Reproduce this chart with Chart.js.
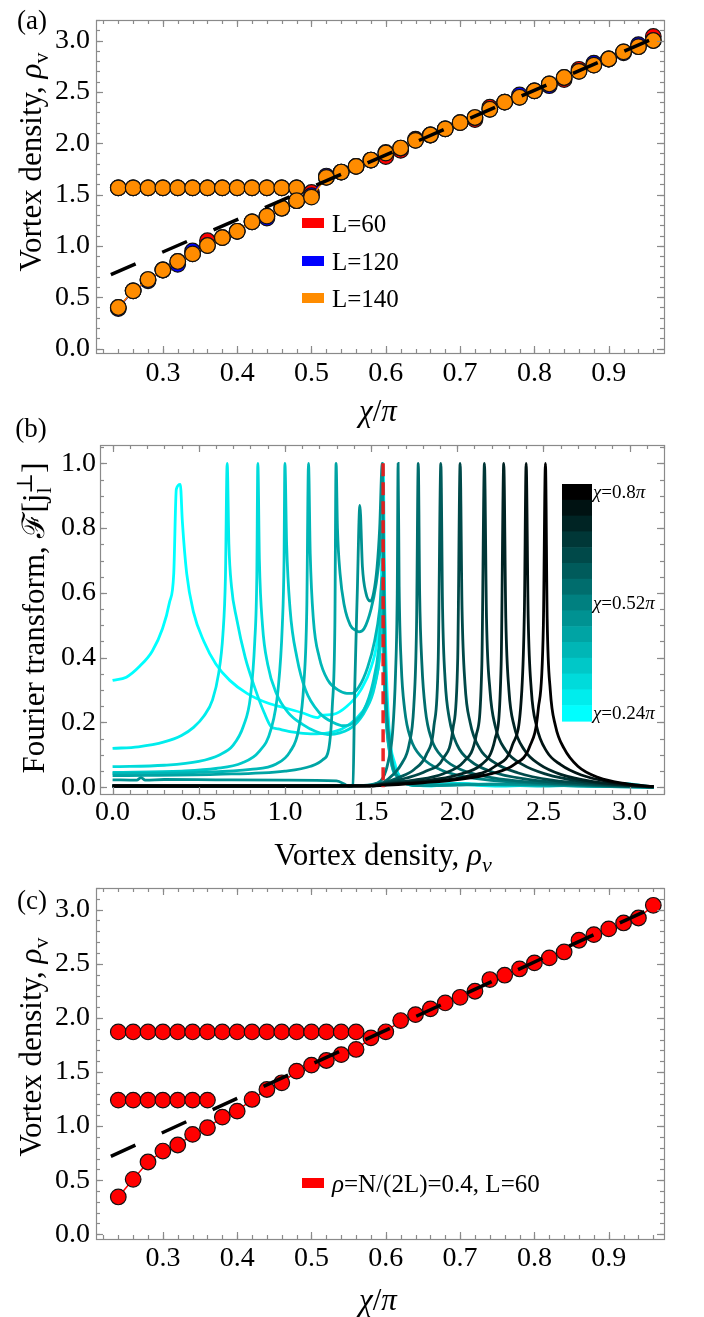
<!DOCTYPE html>
<html>
<head>
<meta charset="utf-8">
<script src="https://cdn.jsdelivr.net/npm/chart.js@4.4.1/dist/chart.umd.min.js"></script>
<style>
body { margin: 0; background: #fff; }
#page { position: relative; width: 704px; height: 1317px; background: #fff; overflow: hidden; }
canvas { position: absolute; left: 0; }
</style>
</head>
<body>
<div id="page">
    <canvas id="chartA" width="704" height="440" style="top:0px"></canvas>
    <canvas id="chartB" width="704" height="460" style="top:415px"></canvas>
    <canvas id="chartC" width="704" height="457" style="top:860px"></canvas>
</div>
<script>
// ---- (a) vortex density against chi/pi, three sizes
var chiA = [0.24, 0.26, 0.28, 0.30, 0.32, 0.34, 0.36, 0.38, 0.40, 0.42, 0.44, 0.46, 0.48, 0.50, 0.52, 0.54, 0.56, 0.58, 0.60,
    0.62, 0.64, 0.66, 0.68, 0.70, 0.72, 0.74, 0.76, 0.78, 0.80, 0.82, 0.84, 0.86, 0.88, 0.90, 0.92, 0.94, 0.96];
var rhoL140 = [0.40, 0.562, 0.672, 0.765, 0.848, 0.922, 1.003, 1.08, 1.142, 1.234, 1.29, 1.367, 1.44, 1.475, 1.667, 1.719, 1.774, 1.836, 1.904,
    1.953, 2.028, 2.08, 2.14, 2.20, 2.25, 2.33, 2.40, 2.447, 2.51, 2.577, 2.64, 2.70, 2.76, 2.82, 2.89, 2.94, 3.00];
var rhoL120 = [0.39, 0.562, 0.66, 0.765, 0.82, 0.95, 1.003, 1.08, 1.142, 1.234, 1.27, 1.367, 1.44, 1.49, 1.68, 1.719, 1.774, 1.836, 1.91,
    1.953, 2.028, 2.08, 2.14, 2.20, 2.25, 2.33, 2.40, 2.47, 2.51, 2.56, 2.64, 2.70, 2.78, 2.82, 2.88, 2.96, 3.00];
var rhoL60 = [0.40, 0.562, 0.672, 0.765, 0.848, 0.922, 1.05, 1.08, 1.142, 1.234, 1.29, 1.367, 1.44, 1.52, 1.667, 1.719, 1.774, 1.836, 1.87,
    1.93, 2.04, 2.08, 2.14, 2.20, 2.23, 2.35, 2.40, 2.447, 2.51, 2.577, 2.62, 2.72, 2.76, 2.82, 2.89, 2.94, 3.04];
var chiFlatA = [0.24, 0.26, 0.28, 0.30, 0.32, 0.34, 0.36, 0.38, 0.40, 0.42, 0.44, 0.46, 0.48];
var rhoFlatA = [1.565, 1.565, 1.565, 1.565, 1.565, 1.565, 1.565, 1.565, 1.565, 1.565, 1.565, 1.565, 1.565];
var guideChi = [0.23, 0.96];
var guideRho = [0.72, 3.02];
var xTicksA = [0.3, 0.4, 0.5, 0.6, 0.7, 0.8, 0.9];
var yTicksA = [0.0, 0.5, 1.0, 1.5, 2.0, 2.5, 3.0];

// ---- (c) rho = 0.4, L = 60
var rhoC = [0.345, 0.508, 0.668, 0.769, 0.825, 0.923, 0.985, 1.083, 1.138, 1.246, 1.338, 1.40, 1.508, 1.563, 1.606, 1.66, 1.708, 1.815, 1.871,
    1.975, 2.03, 2.083, 2.138, 2.19, 2.246, 2.354, 2.394, 2.452, 2.508, 2.554, 2.609, 2.717, 2.769, 2.822, 2.877, 2.923, 3.04];
var chiHighC = [0.24, 0.26, 0.28, 0.30, 0.32, 0.34, 0.36, 0.38, 0.40, 0.42, 0.44, 0.46, 0.48, 0.50, 0.52, 0.54, 0.56];
var rhoHighC = [1.87, 1.87, 1.87, 1.87, 1.87, 1.87, 1.87, 1.87, 1.87, 1.87, 1.87, 1.87, 1.87, 1.87, 1.87, 1.87, 1.87];
var chiLowC = [0.24, 0.26, 0.28, 0.30, 0.32, 0.34, 0.36];
var rhoLowC = [1.24, 1.24, 1.24, 1.24, 1.24, 1.24, 1.24];

// ---- (b) Fourier transform curves, chi = 0.24pi ... 0.8pi
var chiB = [0.24, 0.28, 0.32, 0.36, 0.40, 0.44, 0.48, 0.52, 0.56, 0.60, 0.64, 0.68, 0.72, 0.76, 0.80];
var ft24x = [0, 0.08, 0.16, 0.23, 0.29, 0.33, 0.355, 0.37, 0.393, 0.405, 0.43, 0.47, 0.53, 0.6, 0.68, 0.78, 0.9, 1.0, 1.1, 1.19,
    1.21, 1.28, 1.36, 1.44, 1.5, 1.54, 1.56, 1.57, 1.58, 1.6, 1.64, 1.7, 1.85, 2.0, 2.2, 2.45, 2.7, 2.95, 3.14];
var ft24y = [0.33, 0.34, 0.375, 0.42, 0.49, 0.57, 0.66, 0.92, 0.935, 0.82, 0.66, 0.54, 0.45, 0.38, 0.33, 0.29, 0.26, 0.245, 0.23, 0.215,
    0.222, 0.225, 0.25, 0.3, 0.37, 0.47, 0.62, 1.0, 0.55, 0.22, 0.07, 0.015, 0.004, 0.012, 0.005, 0.013, 0.006, 0.012, 0.0];
var ft28x = [0, 0.15, 0.3, 0.4, 0.47, 0.53, 0.58, 0.615, 0.64, 0.655, 0.665, 0.675, 0.69, 0.72, 0.77, 0.83, 0.88, 0.92, 0.96, 1.05,
    1.15, 1.25, 1.33, 1.41, 1.48, 1.53, 1.555, 1.57, 1.585, 1.61, 1.66, 1.75, 1.95, 2.25, 2.6, 2.9, 3.14];
var ft28y = [0.12, 0.125, 0.14, 0.16, 0.185, 0.22, 0.27, 0.35, 0.47, 0.65, 1.0, 0.75, 0.62, 0.52, 0.4, 0.3, 0.23, 0.187, 0.18, 0.17,
    0.165, 0.168, 0.18, 0.21, 0.26, 0.34, 0.45, 0.75, 0.35, 0.14, 0.04, 0.008, 0.01, 0.004, 0.01, 0.006, 0.0];
var ft32x = [0, 0.3, 0.5, 0.62, 0.7, 0.76, 0.8, 0.825, 0.837, 0.843, 0.852, 0.87, 0.9, 0.95, 1.02, 1.1, 1.18, 1.25, 1.32, 1.4,
    1.47, 1.52, 1.55, 1.565, 1.58, 1.61, 1.66, 1.76, 2.0, 2.3, 2.7, 3.14];
var ft32y = [0.064, 0.068, 0.08, 0.1, 0.13, 0.19, 0.28, 0.45, 0.65, 1.0, 0.7, 0.5, 0.38, 0.29, 0.23, 0.195, 0.172, 0.163, 0.168, 0.19,
    0.24, 0.31, 0.42, 0.6, 0.3, 0.12, 0.035, 0.006, 0.012, 0.005, 0.01, 0.0];
var ft36x = [0, 0.4, 0.6, 0.75, 0.85, 0.92, 0.96, 0.985, 0.995, 1.0, 1.01, 1.03, 1.07, 1.12, 1.2, 1.28, 1.34, 1.4, 1.46, 1.51,
    1.545, 1.565, 1.58, 1.61, 1.66, 1.78, 2.1, 2.5, 2.85, 3.14];
var ft36y = [0.046, 0.05, 0.058, 0.075, 0.11, 0.18, 0.3, 0.5, 0.7, 1.0, 0.75, 0.55, 0.4, 0.3, 0.23, 0.2, 0.19, 0.2, 0.24, 0.32,
    0.43, 0.58, 0.28, 0.1, 0.03, 0.005, 0.01, 0.004, 0.01, 0.0];
var ft40x = [0, 0.5, 0.8, 0.95, 1.03, 1.08, 1.11, 1.127, 1.137, 1.147, 1.165, 1.2, 1.25, 1.31, 1.36, 1.39, 1.43, 1.48, 1.52, 1.55,
    1.565, 1.58, 1.61, 1.66, 1.8, 2.2, 2.6, 3.14];
var ft40y = [0.042, 0.046, 0.055, 0.072, 0.11, 0.18, 0.32, 0.55, 1.0, 0.72, 0.52, 0.4, 0.33, 0.3, 0.29, 0.29, 0.31, 0.37, 0.45, 0.55,
    0.65, 0.3, 0.1, 0.03, 0.006, 0.01, 0.005, 0.0];
var ft44x = [0, 0.6, 1.0, 1.15, 1.22, 1.255, 1.275, 1.29, 1.297, 1.305, 1.32, 1.345, 1.38, 1.41, 1.43, 1.46, 1.5, 1.53, 1.55, 1.565,
    1.58, 1.61, 1.66, 1.8, 2.2, 2.7, 3.14];
var ft44y = [0.036, 0.04, 0.05, 0.065, 0.085, 0.12, 0.25, 0.5, 1.0, 0.8, 0.66, 0.56, 0.5, 0.485, 0.48, 0.49, 0.55, 0.63, 0.72, 0.82,
    0.35, 0.12, 0.03, 0.005, 0.01, 0.004, 0.0];
var ft48x = [0, 0.14, 0.165, 0.19, 0.3, 0.6, 1.0, 1.3, 1.345, 1.37, 1.395, 1.405, 1.42, 1.435, 1.45, 1.47, 1.495, 1.515, 1.535, 1.55,
    1.565, 1.58, 1.61, 1.66, 1.8, 2.3, 2.8, 3.14];
var ft48y = [0.023, 0.022, 0.03, 0.022, 0.024, 0.023, 0.022, 0.02, 0.01, 0.002, 0.005, 0.3, 0.6, 0.87, 0.68, 0.6, 0.575, 0.6, 0.68, 0.8,
    1.0, 0.4, 0.13, 0.03, 0.005, 0.01, 0.004, 0.0];
var ft52x = [0, 1.0, 1.45, 1.53, 1.57, 1.6, 1.625, 1.642, 1.652, 1.657, 1.663, 1.675, 1.695, 1.73, 1.8, 1.9, 2.05, 2.3, 2.6, 2.9, 3.14];
var ft52y = [0.004, 0.004, 0.006, 0.012, 0.03, 0.08, 0.17, 0.35, 0.6, 1.0, 0.62, 0.38, 0.24, 0.15, 0.09, 0.055, 0.032, 0.017, 0.009, 0.004, 0.001];
var ft56x = [0, 1.0, 1.5, 1.57, 1.63, 1.68, 1.72, 1.748, 1.764, 1.774, 1.782, 1.795, 1.815, 1.85, 1.92, 2.02, 2.2, 2.45, 2.75, 3.14];
var ft56y = [0.004, 0.004, 0.005, 0.015, 0.04, 0.075, 0.13, 0.25, 0.5, 1.0, 0.6, 0.38, 0.24, 0.15, 0.09, 0.055, 0.03, 0.015, 0.007, 0.001];
var ft60x = [0, 1.0, 1.5, 1.57, 1.66, 1.75, 1.82, 1.865, 1.89, 1.905, 1.915, 1.93, 1.955, 2.0, 2.08, 2.2, 2.4, 2.65, 2.9, 3.14];
var ft60y = [0.004, 0.004, 0.005, 0.013, 0.03, 0.055, 0.1, 0.19, 0.4, 1.0, 0.55, 0.33, 0.21, 0.13, 0.08, 0.048, 0.025, 0.012, 0.005, 0.001];
var ft64x = [0, 1.0, 1.5, 1.57, 1.7, 1.82, 1.92, 1.975, 2.003, 2.017, 2.028, 2.045, 2.075, 2.13, 2.22, 2.35, 2.55, 2.8, 3.14];
var ft64y = [0.004, 0.004, 0.005, 0.012, 0.028, 0.05, 0.09, 0.18, 0.4, 1.0, 0.55, 0.32, 0.2, 0.12, 0.075, 0.045, 0.022, 0.01, 0.001];
var ft68x = [0, 1.0, 1.5, 1.57, 1.75, 1.92, 2.04, 2.11, 2.143, 2.158, 2.17, 2.19, 2.22, 2.28, 2.38, 2.52, 2.7, 2.92, 3.14];
var ft68y = [0.004, 0.004, 0.005, 0.01, 0.022, 0.042, 0.08, 0.16, 0.38, 1.0, 0.52, 0.3, 0.19, 0.115, 0.07, 0.04, 0.02, 0.008, 0.001];
var ft72x = [0, 1.0, 1.5, 1.57, 1.8, 2.0, 2.14, 2.22, 2.255, 2.27, 2.282, 2.3, 2.33, 2.39, 2.48, 2.6, 2.78, 2.98, 3.14];
var ft72y = [0.004, 0.004, 0.005, 0.009, 0.02, 0.038, 0.07, 0.15, 0.38, 1.0, 0.52, 0.3, 0.19, 0.115, 0.07, 0.04, 0.018, 0.007, 0.001];
var ft76x = [0, 1.0, 1.5, 1.57, 1.85, 2.05, 2.22, 2.32, 2.375, 2.39, 2.40, 2.412, 2.43, 2.46, 2.52, 2.6, 2.72, 2.88, 3.02, 3.14];
var ft76y = [0.004, 0.004, 0.004, 0.008, 0.018, 0.033, 0.065, 0.13, 0.3, 0.55, 1.0, 0.52, 0.3, 0.19, 0.11, 0.07, 0.038, 0.017, 0.007, 0.002];
var ft80x = [0, 1.0, 1.5, 1.57, 1.8, 2.0, 2.2, 2.33, 2.42, 2.47, 2.5, 2.512, 2.522, 2.54, 2.57, 2.62, 2.7, 2.82, 2.98, 3.14];
var ft80y = [0.004, 0.004, 0.004, 0.006, 0.014, 0.024, 0.042, 0.07, 0.125, 0.24, 0.5, 1.0, 0.52, 0.3, 0.19, 0.12, 0.065, 0.03, 0.011, 0.002];
var halfPiX = [1.57, 1.57];
var halfPiY = [1.0, 0.0];
var xTicksB = [0.0, 0.5, 1.0, 1.5, 2.0, 2.5, 3.0];
var yTicksB = [0.0, 0.2, 0.4, 0.6, 0.8, 1.0];

var SERIF = "'Liberation Serif', 'DejaVu Serif', serif";
var RED = '#ff0000', BLUE = '#0000ff', ORANGE = '#ff8c00';

Chart.defaults.font.family = SERIF;

function pts(xs, ys)
{
    return xs.map(function (x, i) { return {x: x, y: ys[i]}; });
}

function shade(chi)
{
    var t = (chi - 0.24) / 0.56,
        g = Math.round(255 * (1 - t));
    return 'rgb(0,' + g + ',' + g + ')';
}

function fontOf(kind, size)
{
    var small = (kind === 'sub' || kind === 'isub' || kind === 'sup' || kind === 'supsub');
    var it = (kind === 'i' || kind === 'isub') ? 'italic ' : '';
    return it + (small ? Math.round(size * 0.7) : size) + 'px ' + SERIF;
}

// parts : [text, kind] ; kind '' | 'i' | 'sub' | 'isub' | 'sup' | 'supsub' (third item = sub text)
function drawRich(ctx, parts, x, y, size, align)
{
    var widths = parts.map(function (p) {
        ctx.font = fontOf(p[1], size);
        var w = ctx.measureText(p[0]).width;
        if(p[1] === 'supsub') {
            w = Math.max(w, ctx.measureText(p[2]).width);
        }
        return w;
    });
    var total = widths.reduce(function (a, b) { return a + b; }, 0);
    var cx = align === 'center' ? x - total / 2 : x;

    ctx.textAlign = 'left';
    ctx.textBaseline = 'alphabetic';
    ctx.fillStyle = '#000';
    parts.forEach(function (p, i) {
        ctx.font = fontOf(p[1], size);
        if(p[1] === 'supsub') {
            ctx.fillText(p[0], cx, y - size * 0.4);
            ctx.fillText(p[2], cx, y + size * 0.22);
        }
        else {
            var dy = 0;
            if(p[1] === 'sub' || p[1] === 'isub') dy = size * 0.22;
            if(p[1] === 'sup') dy = -size * 0.4;
            ctx.fillText(p[0], cx, y + dy);
        }
        cx += widths[i];
    });
}

function drawRotated(ctx, parts, x, y, size)
{
    ctx.save();
    ctx.translate(x, y);
    ctx.rotate(-Math.PI / 2);
    drawRich(ctx, parts, 0, size * 0.33, size, 'center');
    ctx.restore();
}

function minorValues(min, max, step)
{
    var out = [], v = Math.ceil(min / step - 1e-9) * step;
    for(; v <= max + 1e-9; v += step) {
        out.push(v);
    }
    return out;
}

// gray frame with inward ticks on the four sides
var framePlugin = {
    id: 'frame',
    afterDraw: function (chart, args, opts) {
        var ctx = chart.ctx, a = chart.chartArea,
            xs = chart.scales.x, ys = chart.scales.y;

        function seg(x1, y1, x2, y2) {
            ctx.beginPath();
            ctx.moveTo(x1, y1);
            ctx.lineTo(x2, y2);
            ctx.stroke();
        }
        function xMark(v, len) {
            var p = Math.round(xs.getPixelForValue(v)) + 0.5;
            seg(p, a.bottom, p, a.bottom - len);
            seg(p, a.top, p, a.top + len);
        }
        function yMark(v, len) {
            var p = Math.round(ys.getPixelForValue(v)) + 0.5;
            seg(a.left, p, a.left + len, p);
            seg(a.right, p, a.right - len, p);
        }

        ctx.save();
        ctx.strokeStyle = '#8a8a8a';
        ctx.lineWidth = 1.2;
        minorValues(xs.min, xs.max, opts.xMinor).forEach(function (v) { xMark(v, 4); });
        minorValues(ys.min, ys.max, opts.yMinor).forEach(function (v) { yMark(v, 4); });
        xs.ticks.forEach(function (t) { xMark(t.value, 7); });
        ys.ticks.forEach(function (t) { yMark(t.value, 7); });
        ctx.strokeRect(a.left + 0.5, a.top + 0.5, a.right - a.left, a.bottom - a.top);
        ctx.restore();
    }
};

function axis(min, max, ticks, pad, size, horizontal)
{
    return {
        type: 'linear',
        min: min,
        max: max,
        grid: {display: false, drawTicks: false},
        border: {display: false},
        ticks: {
            font: {family: SERIF, size: 28, lineHeight: 1},
            color: '#000',
            padding: pad,
            autoSkip: false,
            maxRotation: 0,
            callback: function (v) { return Number(v).toFixed(1); }
        },
        afterBuildTicks: function (s) {
            s.ticks = ticks.map(function (v) { return {value: v}; });
        },
        afterFit: function (s) {
            if(horizontal) s.height = size;
            else s.width = size;
        }
    };
}

function dotted(label, xs, ys, color)
{
    return {
        label: label,
        data: pts(xs, ys),
        borderColor: color,
        borderWidth: 1.5,
        pointRadius: 7.8,
        pointBackgroundColor: color,
        pointBorderColor: '#111',
        pointBorderWidth: 1.2,
        tension: 0
    };
}

function guide()
{
    return {
        label: 'guide',
        data: pts(guideChi, guideRho),
        borderColor: '#000',
        borderWidth: 3.5,
        borderDash: [27, 29],
        pointRadius: 0
    };
}

function makeChart(id, datasets, scales, pad, minor, extras)
{
    return new Chart(document.getElementById(id), {
        type: 'line',
        data: {datasets: datasets},
        options: {
            responsive: false,
            animation: false,
            layout: {padding: pad},
            plugins: {
                legend: {display: false},
                tooltip: {enabled: false},
                frame: minor
            },
            scales: scales
        },
        plugins: [framePlugin, extras]
    });
}

function legendRow(ctx, color, parts, x, y)
{
    ctx.fillStyle = color;
    ctx.fillRect(x, y - 5, 22, 10);
    drawRich(ctx, parts, x + 30, y + 8.5, 25, 'left');
}

// ---- (a)
makeChart('chartA', [
    guide(),
    dotted('L=140', chiA, rhoL140, ORANGE),
    dotted('', chiFlatA, rhoFlatA, ORANGE),
    dotted('L=120', chiA, rhoL120, BLUE),
    dotted('', chiFlatA, rhoFlatA, BLUE),
    dotted('L=60', chiA, rhoL60, RED),
    dotted('', chiFlatA, rhoFlatA, RED)
], {
    x: axis(0.21, 0.9744, xTicksA, 7, 87, true),
    y: axis(-0.0435, 3.2, yTicksA, 6, 96, false)
}, {top: 3, right: 40, left: 0, bottom: 0}, {xMinor: 0.02, yMinor: 0.1}, {
    id: 'extrasA',
    afterDraw: function (chart) {
        var ctx = chart.ctx;
        ctx.save();
        drawRich(ctx, [['(a)', '']], 32, 29, 27, 'center');
        drawRotated(ctx, [['Vortex density, ', ''], ['ρ', 'i'], ['v', 'sub']], 31, 162, 31);
        drawRich(ctx, [['χ', 'i'], ['/', ''], ['π', 'i']], 378, 421, 31, 'center');
        legendRow(ctx, RED, [['L=60', '']], 302, 223);
        legendRow(ctx, BLUE, [['L=120', '']], 302, 261);
        legendRow(ctx, ORANGE, [['L=140', '']], 302, 298);
        ctx.restore();
    }
});

// ---- (b)
var dsB = [{
    label: 'pi/2',
    data: pts(halfPiX, halfPiY),
    borderColor: 'rgba(235,25,25,0.95)',
    borderWidth: 3.5,
    borderDash: [13, 6],
    pointRadius: 0
}];
var curvesB = [
    [ft80x, ft80y], [ft76x, ft76y], [ft72x, ft72y], [ft68x, ft68y], [ft64x, ft64y], [ft60x, ft60y], [ft56x, ft56y], [ft52x, ft52y],
    [ft48x, ft48y], [ft44x, ft44y], [ft40x, ft40y], [ft36x, ft36y], [ft32x, ft32y], [ft28x, ft28y], [ft24x, ft24y]
];
curvesB.forEach(function (c, i) {
    var chi = chiB[chiB.length - 1 - i];
    dsB.push({
        label: 'chi=' + chi,
        data: pts(c[0], c[1]),
        borderColor: shade(chi),
        borderWidth: 2.8,
        pointRadius: 0,
        cubicInterpolationMode: 'monotone'
    });
});

makeChart('chartB', dsB, {
    x: axis(-0.073, 3.2, xTicksB, 5, 81, true),
    y: axis(-0.0207, 1.0565, yTicksB, 4, 100, false)
}, {top: 30, right: 40, left: 0, bottom: 0}, {xMinor: 0.1, yMinor: 0.05}, {
    id: 'extrasB',
    afterDraw: function (chart) {
        var ctx = chart.ctx,
            top = 69, h = 237 / chiB.length;
        ctx.save();
        drawRich(ctx, [['(b)', '']], 31, 22, 27, 'center');
        drawRotated(ctx, [['Fourier transform, ', ''], ['ℱ', ''], ['[j', ''], ['⊥', 'supsub', 'l'], [']', '']], 34, 203, 31);
        drawRich(ctx, [['Vortex density, ', ''], ['ρ', 'i'], ['v', 'isub']], 383, 450, 31, 'center');
        // colour bar, top band = largest chi
        chiB.slice().reverse().forEach(function (chi, i) {
            ctx.fillStyle = shade(chi);
            ctx.fillRect(562, top + i * h, 30, h + 0.6);
        });
        drawRich(ctx, [['χ', 'i'], ['=0.8', ''], ['π', 'i']], 593, top + h / 2 + 6, 19, 'left');
        drawRich(ctx, [['χ', 'i'], ['=0.52', ''], ['π', 'i']], 593, top + 7.5 * h + 6, 19, 'left');
        drawRich(ctx, [['χ', 'i'], ['=0.24', ''], ['π', 'i']], 593, top + 14.5 * h + 6, 19, 'left');
        ctx.restore();
    }
});

// ---- (c)
makeChart('chartC', [
    guide(),
    dotted('rho=0.4', chiA, rhoC, RED),
    dotted('', chiHighC, rhoHighC, RED),
    dotted('', chiLowC, rhoLowC, RED)
], {
    x: axis(0.21, 0.9744, xTicksA, 5.5, 78, true),
    y: axis(-0.0435, 3.2, yTicksA, 6, 96, false)
}, {top: 28, right: 40, left: 0, bottom: 0}, {xMinor: 0.02, yMinor: 0.1}, {
    id: 'extrasC',
    afterDraw: function (chart) {
        var ctx = chart.ctx;
        ctx.save();
        drawRich(ctx, [['(c)', '']], 32, 49, 27, 'center');
        drawRotated(ctx, [['Vortex density, ', ''], ['ρ', 'i'], ['v', 'sub']], 31, 187, 31);
        drawRich(ctx, [['χ', 'i'], ['/', ''], ['π', 'i']], 378, 450, 31, 'center');
        legendRow(ctx, RED, [['ρ', 'i'], ['=N/(2L)=0.4, L=60', '']], 302, 323);
        ctx.restore();
    }
});
</script>
</body>
</html>
